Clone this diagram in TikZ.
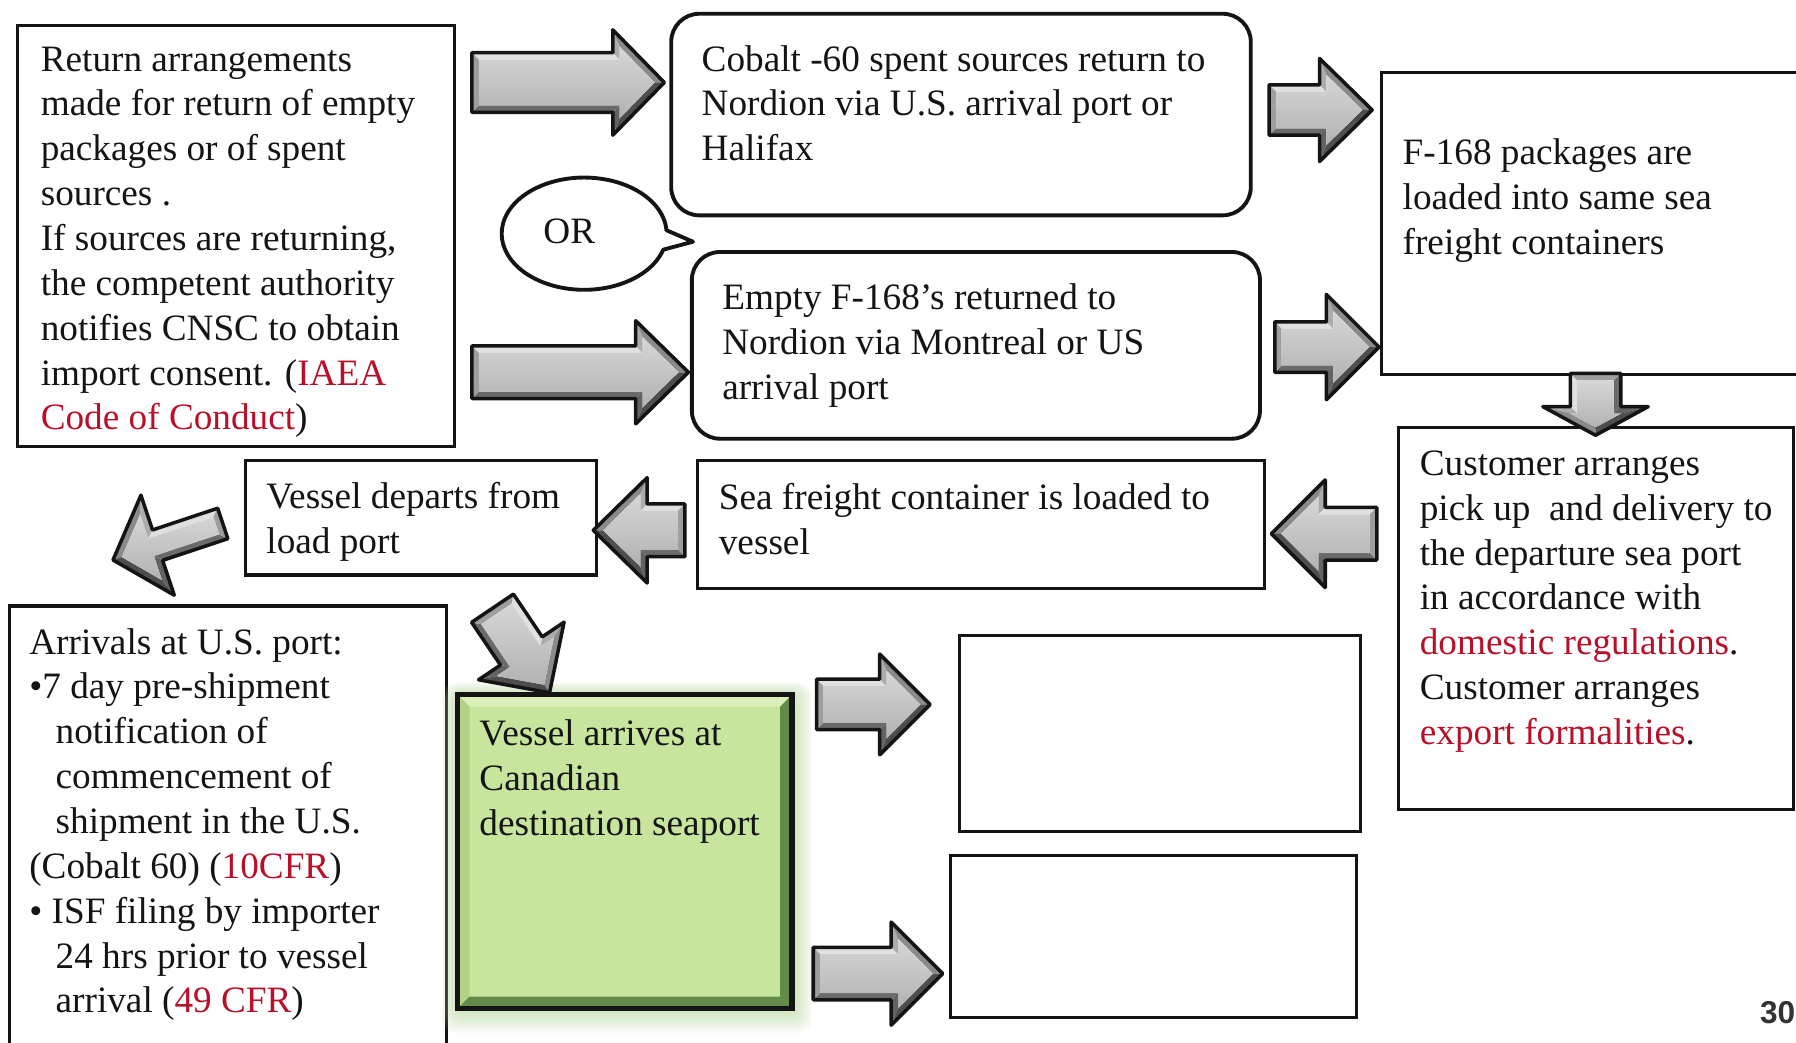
\documentclass[tikz,border=0pt]{standalone}
\usepackage{fontspec}
\setmainfont{Liberation Serif}
\newfontfamily\numfont{Liberation Sans}
\usetikzlibrary{fit,calc}

\definecolor{regred}{RGB}{185,16,42}
\definecolor{inkblack}{RGB}{20,20,20}
% bevel shades of the grey block arrows
\definecolor{batop}{RGB}{224,224,224}
\definecolor{baheadback}{RGB}{172,172,172}
\definecolor{baslantup}{RGB}{138,138,138}
\definecolor{baslantdn}{RGB}{78,78,78}
\definecolor{baheadlow}{RGB}{98,98,98}
\definecolor{babottom}{RGB}{106,106,106}
\definecolor{batail}{RGB}{158,158,158}
\definecolor{bafacetop}{RGB}{214,214,214}
\definecolor{bafacebot}{RGB}{178,178,178}
% green box
\definecolor{greenface}{RGB}{200,229,158}
\definecolor{greenlight}{RGB}{218,240,184}
\definecolor{greenleft}{RGB}{178,211,133}
\definecolor{greendark}{RGB}{98,138,72}
\definecolor{greenglow}{RGB}{178,214,150}

\def\baB{6}
% \blockarrow{transform}{length}{shaft half width}{head half width}{head length}
% drawn pointing along +x from the tail centre (0,0)
\newcommand\blockarrow[5]{%
  \begin{scope}[#1]
    \pgfmathsetmacro\baS{sqrt((#4)*(#4)+(#5)*(#5))}
    \pgfmathsetmacro\baQy{-(#4)+\baB*(#5)/\baS+\baB*(#4)*(1+(#4)/\baS)/(#5)}
    \pgfmathsetmacro\baQyn{-\baQy}
    \pgfmathsetmacro\baQx{(#2)-\baB*\baS/(#4)}
    \coordinate (p1) at (0,{-(#3)});
    \coordinate (p2) at ({(#2)-(#5)},{-(#3)});
    \coordinate (p3) at ({(#2)-(#5)},{-(#4)});
    \coordinate (p4) at (#2,0);
    \coordinate (p5) at ({(#2)-(#5)},#4);
    \coordinate (p6) at ({(#2)-(#5)},#3);
    \coordinate (p7) at (0,#3);
    \coordinate (q1) at (\baB,{-(#3)+\baB});
    \coordinate (q2) at ({(#2)-(#5)+\baB},{-(#3)+\baB});
    \coordinate (q3) at ({(#2)-(#5)+\baB},\baQy);
    \coordinate (q4) at (\baQx,0);
    \coordinate (q5) at ({(#2)-(#5)+\baB},\baQyn);
    \coordinate (q6) at ({(#2)-(#5)+\baB},{(#3)-\baB});
    \coordinate (q7) at (\baB,{(#3)-\baB});
    \fill[batop] (p1)--(p2)--(q2)--(q1)--cycle;
    \fill[baheadback] (p2)--(p3)--(q3)--(q2)--cycle;
    \fill[baslantup] (p3)--(p4)--(q4)--(q3)--cycle;
    \fill[baslantdn] (p4)--(p5)--(q5)--(q4)--cycle;
    \fill[baheadlow] (p5)--(p6)--(q6)--(q5)--cycle;
    \fill[babottom] (p6)--(p7)--(q7)--(q6)--cycle;
    \fill[batail] (p7)--(p1)--(q1)--(q7)--cycle;
    \shade[top color=bafacetop,bottom color=bafacebot]
      (q1)--(q2)--(q3)--(q4)--(q5)--(q6)--(q7)--cycle;
    \draw[inkblack,line width=1pt,line join=round]
      (p1)--(p2)--(p3)--(p4)--(p5)--(p6)--(p7)--cycle;
  \end{scope}}

\begin{document}
\begin{tikzpicture}[x=0.011454cm,y=-0.011454cm,
  box/.style={draw=inkblack,line width=0.9pt,inner sep=0pt,fill=white},
  rbox/.style={box,rounded corners=8pt,line width=1.1pt},
  txt/.style={anchor=north west,inner sep=0pt,align=left,text=inkblack,
    font=\fontsize{10.6}{12.77}\selectfont},
  redtxt/.style={text=regred}]
\useasboundingbox (0,0) rectangle (1568,910);
\fill[white] (0,0) rectangle (1568,910);

% ---- boxes ----
\node[box,fit={(15,22)(397,390)}] (ret) {};
\node[rbox,fit={(586,12)(1092,188)}] (cobalt) {};
\node[rbox,fit={(604,220)(1100,383)}] (empty) {};
\node[box,fit={(1206,63)(1585,327)}] (load) {};
\node[box,fit={(1221,373)(1566,707)}] (cust) {};
\node[box,fit={(609,402)(1104,514)}] (cont) {};
\node[box,fit={(214,402)(521,502)}] (depart) {};
\node[box,fit={(8,529)(390,930)}] (arr) {};
\node[box,fit={(838,555)(1188,726)}] (blankA) {};
\node[box,fit={(830,747)(1184,888)}] (blankB) {};

% ---- green destination box with soft glow and bevel ----
\foreach \g in {1,...,9}
  \fill[greenglow,opacity=0.09,rounded corners=4pt]
    ({400-1.6*\g},{607-1.2*\g}) rectangle ({691+2*\g},{880+2.4*\g});
\node[inner sep=0pt,fit={(400,607)(691,880)}] (dest) {};
\fill[greenface] (400,607) rectangle (691,880);
\fill[greenlight] (400,607)--(691,607)--(681,617)--(410,617)--cycle;
\fill[greenleft] (400,607)--(410,617)--(410,870)--(400,880)--cycle;
\fill[greendark] (691,607)--(691,880)--(681,870)--(681,617)--cycle;
\fill[greendark] (400,880)--(691,880)--(681,870)--(410,870)--cycle;
\draw[inkblack,line width=1.6pt] (dest.north west) rectangle (dest.south east);

% ---- texts ----
\node[txt] (tret) at (35,34) {\strut Return arrangements\\
made for return of empty\\
packages or of spent\\
sources .\\
If sources are returning,\\
the competent authority\\
notifies CNSC to obtain\\
import consent. (\textcolor{regred}{IAEA}\\
\textcolor{regred}{Code of Conduct})};

\node[txt] (tcobalt) at (612,34) {\strut Cobalt -60 spent sources return to\\
Nordion via U.S. arrival port or\\
Halifax};

\node[txt] (tempty) at (630,242) {\strut Empty F-168’s returned to\\
Nordion via Montreal or US\\
arrival port};

\node[txt] (tload) at (1224,116) {\strut F-168 packages are\\
loaded into same sea\\
freight containers};

\node[txt] (tcust) at (1239,387) {\strut Customer arranges\\
pick up\ \ and delivery to\\
the departure sea port\\
in accordance with\\
\textcolor{regred}{domestic regulations}.\\
Customer arranges\\
\textcolor{regred}{export formalities}.};

\node[txt] (tcont) at (627,417) {\strut Sea freight container is loaded to\\
vessel};

\node[txt] (tdepart) at (232,416) {\strut Vessel departs from\\
load port};

\node[txt] (tarr) at (25,543) {\strut Arrivals at U.S. port:\\
•7 day pre-shipment\\
\hspace*{7.5pt}notification of\\
\hspace*{7.5pt}commencement of\\
\hspace*{7.5pt}shipment in the U.S.\\
(Cobalt 60) (\textcolor{regred}{10CFR})\\
• ISF filing by importer\\
\hspace*{7.5pt}24 hrs prior to vessel\\
\hspace*{7.5pt}arrival (\textcolor{regred}{49 CFR})};

\node[txt] (tdest) at (418,623) {\strut Vessel arrives at\\
Canadian\\
destination seaport};

% ---- OR speech bubble ----
\draw[inkblack,line width=1.1pt,fill=white,line join=round]
  (579,218) arc[start angle=16.6,end angle=356.5,x radius=72,y radius=49]
  -- (605,211) -- cycle;
\node[inner sep=0pt,text=inkblack,font=\fontsize{10.6}{12.77}\selectfont] (or) at (497,202) {OR};

% ---- block arrows ----
\blockarrow{shift={(412,72)}}{168}{26}{46}{45}
\blockarrow{shift={(412,325)}}{189}{23}{45}{46}
\blockarrow{shift={(1108,96)}}{90}{22}{45}{46}
\blockarrow{shift={(1113,303)}}{91}{22}{46}{46}
\blockarrow{shift={(1393,326)},rotate=-90,yscale=-1}{54}{22}{46}{25}
\blockarrow{shift={(1202,466)},xscale=-1}{92}{23}{47}{47}
\blockarrow{shift={(598,463)},xscale=-1}{80}{23}{46}{47}
\blockarrow{shift={(194.5,457)},rotate=18.4,xscale=-1}{101}{14}{46}{41}
\blockarrow{shift={(430,531)},rotate=-56}{89}{22}{45}{44}
\blockarrow{shift={(713,615)}}{99}{22}{44}{44}
\blockarrow{shift={(710,850)}}{113}{23}{45}{45}

% ---- page number ----
\node[anchor=east,inner sep=0pt,text=black!80,font=\numfont\bfseries\fontsize{9}{10}\selectfont] (pg) at (1568,884) {30};
\end{tikzpicture}
\end{document}
